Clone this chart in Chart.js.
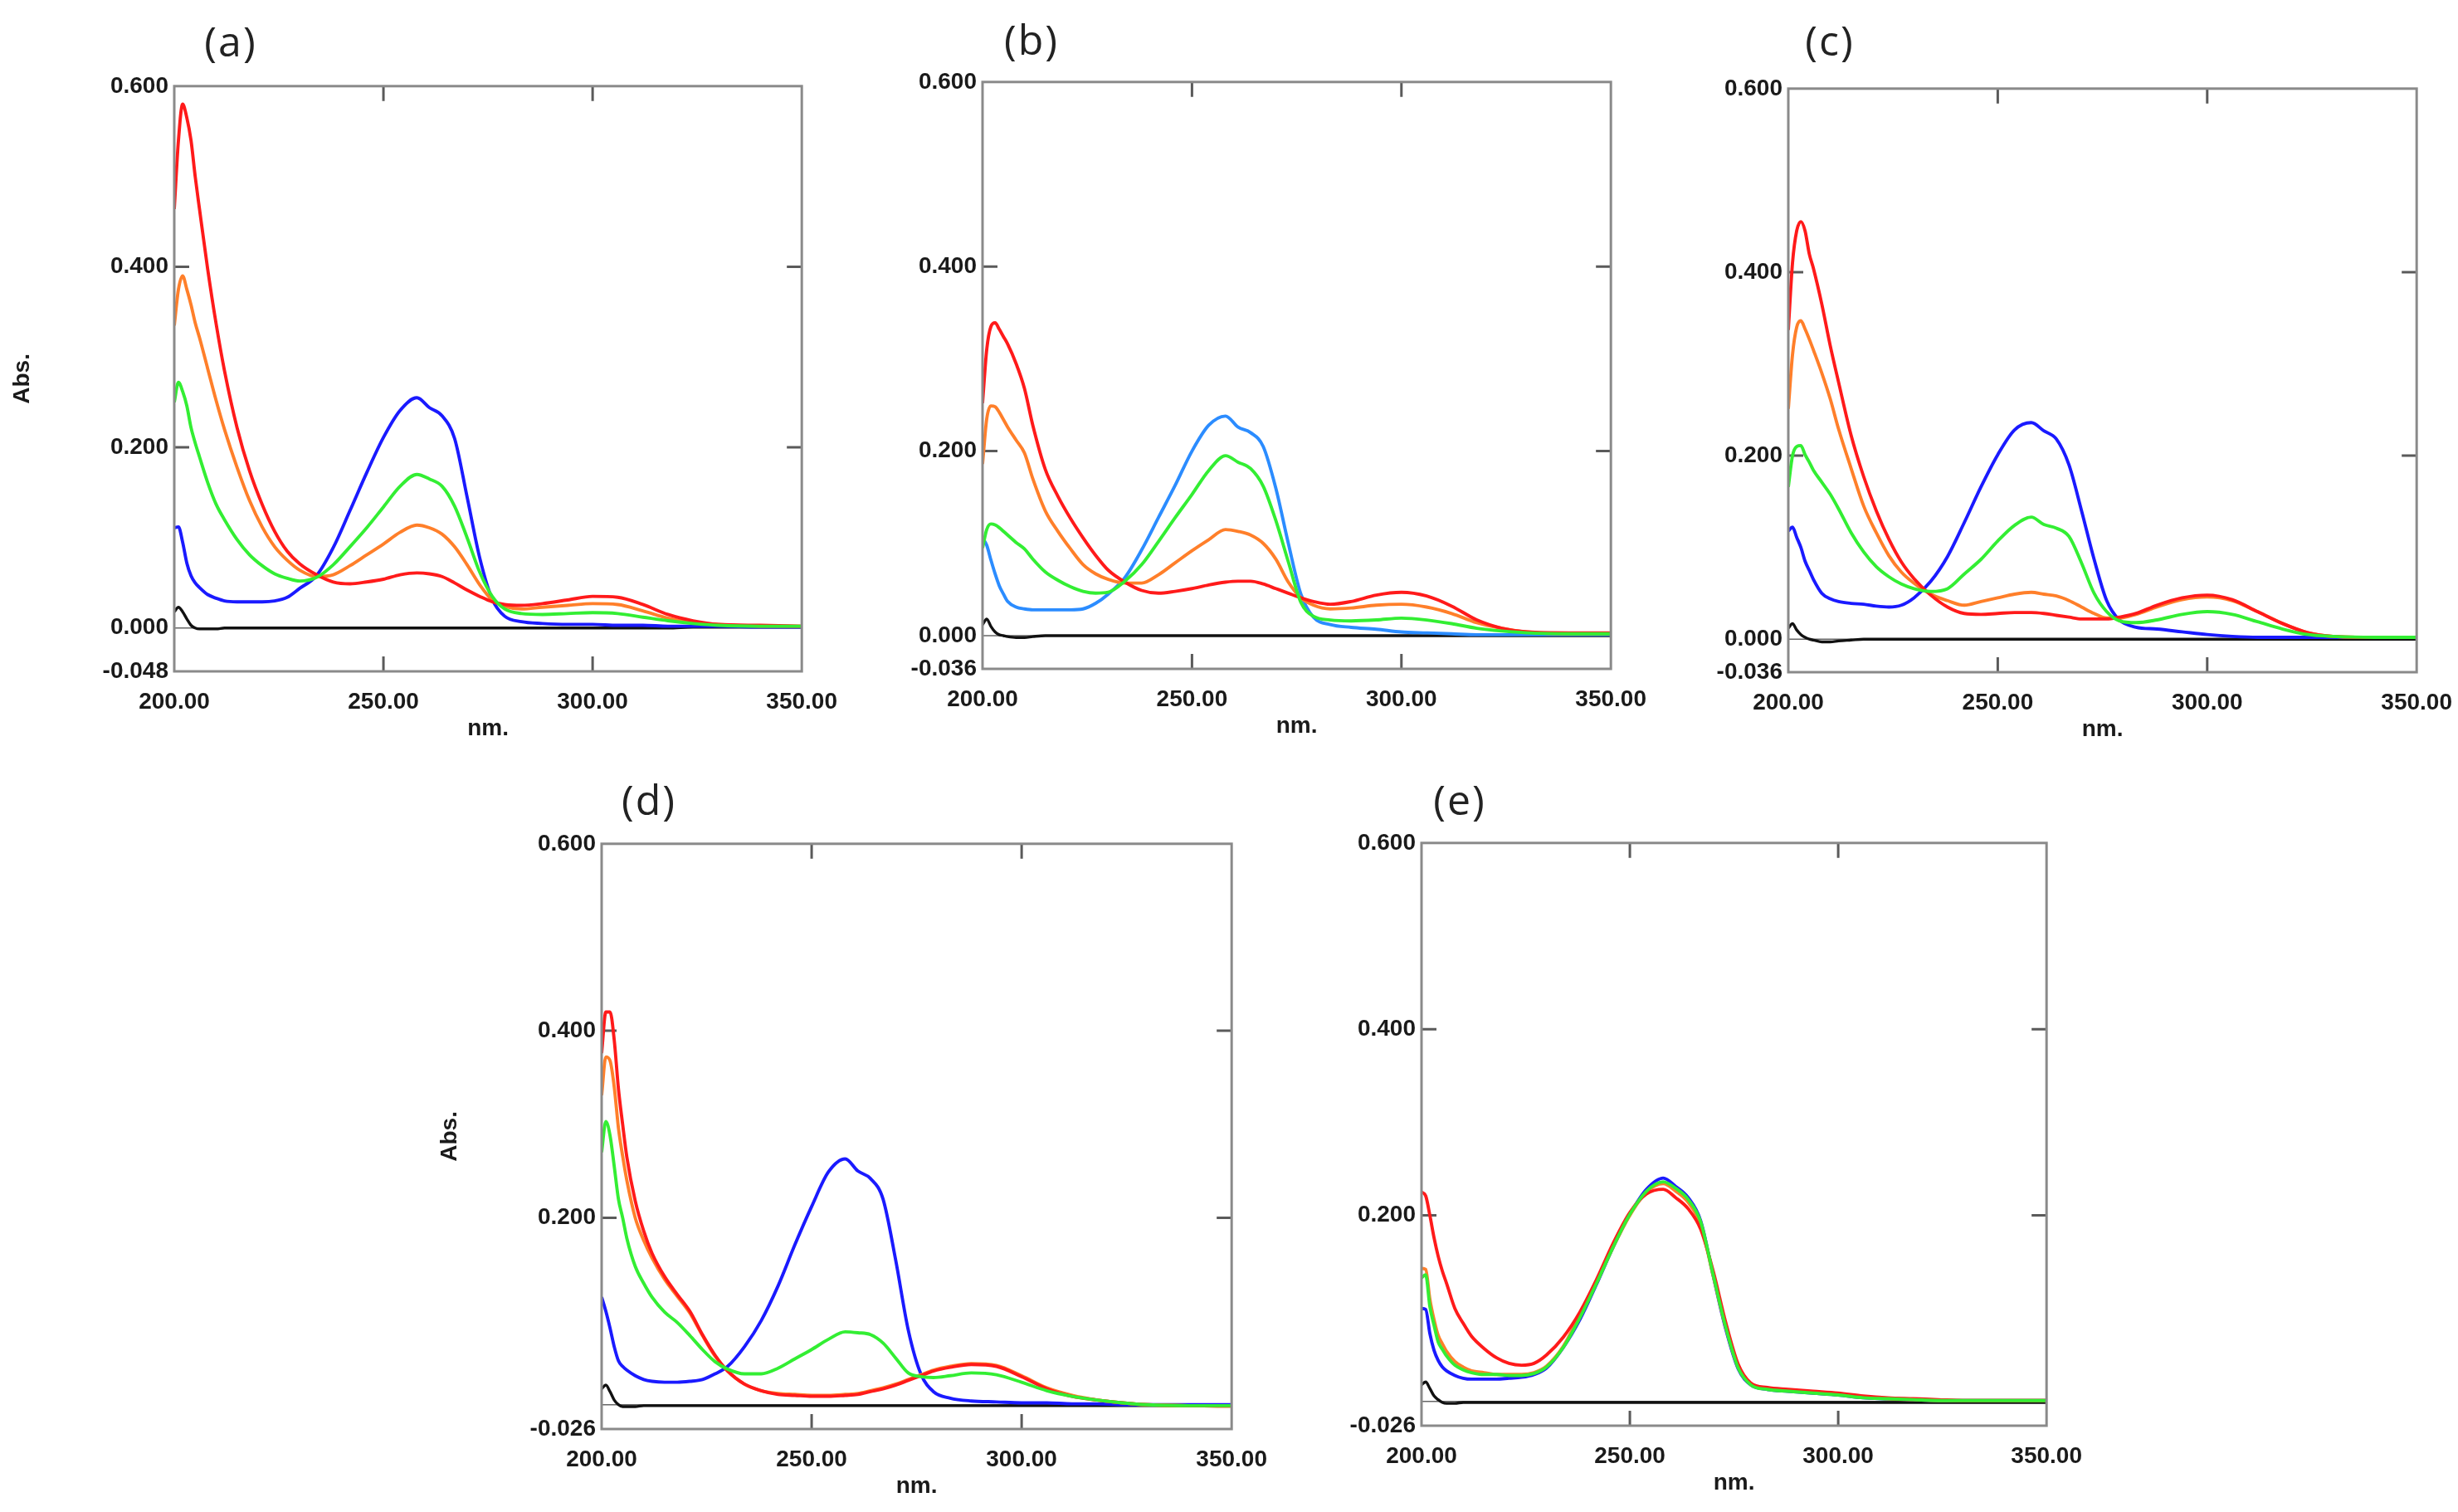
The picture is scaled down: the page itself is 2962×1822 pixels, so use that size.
<!DOCTYPE html>
<html>
<head>
<meta charset="utf-8">
<script src="https://cdn.jsdelivr.net/npm/chart.js@4.4.1/dist/chart.umd.min.js"></script>
<style>
  html, body { margin: 0; padding: 0; background: #fff; }
  body { width: 2962px; height: 1822px; position: relative; overflow: hidden; }
  canvas { position: absolute; }
  .tag {
    position: absolute;
    font-family: "Open Sans", sans-serif;
    font-size: 50px;
    color: #222;
    letter-spacing: 2px;
    transform: translate(-50%, -50%);
    white-space: nowrap;
  }
</style>
</head>
<body>
<script>
// Wavelength grid (nm) used by every spectrum
const nm = [200, 201, 202, 203, 204, 205, 206, 208, 210, 212, 215, 218, 221, 224, 227, 230, 234, 238, 242, 246,
            250, 254, 258, 261, 264, 267, 270, 273, 276, 279, 283, 288, 294, 300, 306, 312, 318, 324, 330, 340, 350];

// Panel (a)
const aRed    = [0.464, 0.54, 0.58, 0.565, 0.54, 0.5, 0.465, 0.397, 0.337, 0.285, 0.222, 0.174, 0.137, 0.107, 0.085, 0.071, 0.059, 0.051, 0.049, 0.051,
                 0.054, 0.059, 0.061, 0.06, 0.057, 0.05, 0.042, 0.035, 0.029, 0.026, 0.025, 0.027, 0.031, 0.035, 0.034, 0.026, 0.015, 0.008, 0.004, 0.003, 0.002];
const aOrange = [0.335, 0.375, 0.39, 0.375, 0.358, 0.338, 0.322, 0.287, 0.252, 0.22, 0.178, 0.141, 0.112, 0.09, 0.075, 0.064, 0.057, 0.059, 0.069, 0.081,
                 0.093, 0.106, 0.114, 0.111, 0.104, 0.09, 0.07, 0.048, 0.031, 0.024, 0.021, 0.023, 0.025, 0.027, 0.026, 0.019, 0.011, 0.006, 0.004, 0.002, 0.002];
const aGreen  = [0.25, 0.272, 0.262, 0.246, 0.222, 0.205, 0.19, 0.161, 0.137, 0.12, 0.098, 0.081, 0.069, 0.06, 0.055, 0.052, 0.056, 0.07, 0.09, 0.111,
                 0.134, 0.157, 0.17, 0.165, 0.157, 0.135, 0.1, 0.062, 0.035, 0.021, 0.016, 0.015, 0.016, 0.017, 0.016, 0.012, 0.008, 0.005, 0.003, 0.002, 0.002];
const aBlue   = [0.111, 0.112, 0.095, 0.072, 0.058, 0.05, 0.045, 0.037, 0.033, 0.03, 0.029, 0.029, 0.029, 0.03, 0.034, 0.044, 0.058, 0.089, 0.13, 0.172,
                 0.211, 0.241, 0.255, 0.244, 0.235, 0.21, 0.145, 0.078, 0.032, 0.013, 0.007, 0.005, 0.004, 0.004, 0.003, 0.003, 0.002, 0.002, 0.002, 0.001, 0.001];
const aBlack  = [0.018, 0.023, 0.018, 0.01, 0.003, 0, -0.001, -0.001, -0.001, 0, 0, 0, 0, 0, 0, 0, 0, 0, 0, 0,
                 0, 0, 0, 0, 0, 0, 0, 0, 0, 0, 0, 0, 0, 0, 0, 0, 0, 0.001, 0.001, 0.001, 0.001];

// Panel (b)
const bRed    = [0.252, 0.31, 0.335, 0.339, 0.332, 0.324, 0.316, 0.295, 0.268, 0.228, 0.18, 0.151, 0.127, 0.106, 0.087, 0.071, 0.058, 0.049, 0.046, 0.048,
                 0.051, 0.055, 0.058, 0.059, 0.059, 0.056, 0.051, 0.046, 0.041, 0.037, 0.034, 0.037, 0.044, 0.047, 0.043, 0.032, 0.017, 0.008, 0.004, 0.003, 0.003];
const bOrange = [0.186, 0.235, 0.249, 0.248, 0.242, 0.234, 0.226, 0.212, 0.198, 0.17, 0.135, 0.113, 0.094, 0.077, 0.067, 0.061, 0.057, 0.057, 0.066, 0.079,
                 0.092, 0.104, 0.115, 0.113, 0.109, 0.1, 0.083, 0.058, 0.041, 0.033, 0.029, 0.03, 0.033, 0.034, 0.031, 0.024, 0.014, 0.008, 0.004, 0.002, 0.002];
const bGreen  = [0.095, 0.115, 0.121, 0.12, 0.117, 0.113, 0.109, 0.101, 0.094, 0.083, 0.069, 0.06, 0.053, 0.048, 0.046, 0.047, 0.059, 0.077, 0.102, 0.128,
                 0.153, 0.179, 0.195, 0.188, 0.181, 0.162, 0.125, 0.08, 0.036, 0.021, 0.017, 0.016, 0.017, 0.019, 0.017, 0.013, 0.008, 0.005, 0.003, 0.002, 0.002];
const bBlue   = [0.106, 0.098, 0.082, 0.067, 0.054, 0.045, 0.037, 0.031, 0.029, 0.028, 0.028, 0.028, 0.028, 0.029, 0.035, 0.045, 0.063, 0.093, 0.128, 0.163,
                 0.2, 0.228, 0.238, 0.226, 0.22, 0.205, 0.16, 0.1, 0.045, 0.02, 0.012, 0.009, 0.007, 0.004, 0.003, 0.002, 0.001, 0.001, 0.001, 0.001, 0.001];
const bBlack  = [0.012, 0.018, 0.01, 0.004, 0.001, 0, -0.001, -0.002, -0.002, -0.001, 0, 0, 0, 0, 0, 0, 0, 0, 0, 0,
                 0, 0, 0, 0, 0, 0, 0, 0, 0, 0, 0, 0, 0, 0, 0, 0, 0, 0, 0, 0, 0];

// Panel (c)
const cRed    = [0.337, 0.41, 0.445, 0.455, 0.445, 0.42, 0.404, 0.365, 0.32, 0.28, 0.222, 0.177, 0.14, 0.109, 0.084, 0.066, 0.048, 0.035, 0.028, 0.027,
                 0.028, 0.029, 0.029, 0.028, 0.026, 0.024, 0.022, 0.022, 0.022, 0.024, 0.028, 0.037, 0.045, 0.048, 0.043, 0.03, 0.017, 0.007, 0.003, 0.002, 0.002];
const cOrange = [0.251, 0.31, 0.34, 0.347, 0.338, 0.327, 0.315, 0.29, 0.262, 0.229, 0.186, 0.145, 0.116, 0.091, 0.073, 0.061, 0.049, 0.042, 0.037, 0.041,
                 0.045, 0.049, 0.051, 0.049, 0.047, 0.042, 0.035, 0.028, 0.023, 0.023, 0.027, 0.035, 0.043, 0.046, 0.042, 0.03, 0.017, 0.007, 0.003, 0.002, 0.002];
const cGreen  = [0.166, 0.2, 0.21, 0.211, 0.201, 0.193, 0.184, 0.171, 0.158, 0.142, 0.116, 0.095, 0.079, 0.068, 0.06, 0.055, 0.052, 0.055, 0.071, 0.087,
                 0.107, 0.124, 0.133, 0.125, 0.121, 0.112, 0.083, 0.05, 0.03, 0.02, 0.018, 0.021, 0.027, 0.03, 0.027, 0.019, 0.011, 0.005, 0.003, 0.002, 0.002];
const cBlue   = [0.118, 0.122, 0.111, 0.1, 0.085, 0.075, 0.065, 0.05, 0.044, 0.041, 0.039, 0.038, 0.036, 0.035, 0.037, 0.045, 0.063, 0.09, 0.127, 0.166,
                 0.201, 0.228, 0.236, 0.227, 0.218, 0.19, 0.14, 0.087, 0.042, 0.021, 0.013, 0.011, 0.008, 0.005, 0.003, 0.002, 0.002, 0.002, 0.002, 0.002, 0.002];
const cBlack  = [0.012, 0.017, 0.01, 0.005, 0.002, 0, -0.001, -0.003, -0.003, -0.002, -0.001, 0, 0, 0, 0, 0, 0, 0, 0, 0,
                 0, 0, 0, 0, 0, 0, 0, 0, 0, 0, 0, 0, 0, 0, 0, 0, 0, 0, 0, 0, 0];

// Panel (d)
const dRed    = [0.376, 0.42, 0.42, 0.39, 0.338, 0.3, 0.265, 0.218, 0.186, 0.162, 0.137, 0.118, 0.1, 0.075, 0.053, 0.036, 0.022, 0.015, 0.011, 0.01,
                 0.009, 0.009, 0.01, 0.011, 0.014, 0.017, 0.021, 0.026, 0.031, 0.036, 0.04, 0.043, 0.041, 0.03, 0.017, 0.009, 0.005, 0.002, 0, -0.001, -0.0015];
const dOrange = [0.331, 0.372, 0.368, 0.34, 0.296, 0.266, 0.24, 0.2, 0.176, 0.157, 0.134, 0.116, 0.098, 0.074, 0.052, 0.036, 0.022, 0.015, 0.012, 0.011,
                 0.01, 0.01, 0.011, 0.012, 0.015, 0.018, 0.022, 0.027, 0.032, 0.037, 0.041, 0.044, 0.042, 0.031, 0.018, 0.01, 0.005, 0.002, 0, -0.001, -0.0015];
const dGreen  = [0.27, 0.303, 0.288, 0.255, 0.22, 0.2, 0.178, 0.148, 0.13, 0.115, 0.099, 0.088, 0.074, 0.059, 0.046, 0.038, 0.033, 0.033, 0.039, 0.049,
                 0.059, 0.07, 0.078, 0.077, 0.075, 0.066, 0.05, 0.034, 0.03, 0.029, 0.031, 0.034, 0.032, 0.024, 0.015, 0.009, 0.005, 0.002, 0, -0.001, -0.001];
const dBlue   = [0.115, 0.1, 0.082, 0.062, 0.047, 0.041, 0.037, 0.031, 0.027, 0.025, 0.024, 0.024, 0.025, 0.027, 0.033, 0.041, 0.062, 0.09, 0.127, 0.171,
                 0.212, 0.249, 0.263, 0.25, 0.242, 0.22, 0.155, 0.08, 0.033, 0.014, 0.007, 0.004, 0.003, 0.002, 0.002, 0.001, 0.001, 0, 0, 0, 0];
const dBlack  = [0.017, 0.021, 0.014, 0.005, 0, -0.002, -0.002, -0.002, -0.001, -0.001, -0.001, -0.001, -0.001, -0.001, -0.001, -0.001, -0.001, -0.001, -0.001, -0.001,
                 -0.001, -0.001, -0.001, -0.001, -0.001, -0.001, -0.001, -0.001, -0.001, -0.001, -0.001, -0.001, -0.001, -0.001, -0.001, -0.001, -0.001, -0.001, -0.001, -0.001, -0.001];

// Panel (e)
const eRed    = [0.225, 0.221, 0.2, 0.176, 0.156, 0.14, 0.127, 0.1, 0.084, 0.07, 0.057, 0.047, 0.041, 0.039, 0.041, 0.05, 0.069, 0.096, 0.131, 0.17,
                 0.203, 0.223, 0.228, 0.219, 0.207, 0.185, 0.14, 0.085, 0.04, 0.02, 0.015, 0.013, 0.011, 0.009, 0.006, 0.004, 0.003, 0.002, 0.001, 0.001, 0.001];
const eOrange = [0.143, 0.142, 0.11, 0.088, 0.071, 0.062, 0.054, 0.043, 0.037, 0.033, 0.031, 0.029, 0.029, 0.029, 0.031, 0.038, 0.059, 0.093, 0.128, 0.166,
                 0.2, 0.225, 0.234, 0.226, 0.214, 0.19, 0.135, 0.08, 0.037, 0.019, 0.014, 0.012, 0.01, 0.008, 0.005, 0.003, 0.002, 0.001, 0.001, 0.001, 0.001];
const eGreen  = [0.133, 0.136, 0.102, 0.082, 0.064, 0.056, 0.049, 0.039, 0.034, 0.031, 0.029, 0.029, 0.028, 0.028, 0.03, 0.037, 0.058, 0.09, 0.127, 0.166,
                 0.201, 0.226, 0.236, 0.229, 0.217, 0.193, 0.136, 0.08, 0.036, 0.018, 0.013, 0.011, 0.009, 0.007, 0.004, 0.003, 0.002, 0.001, 0.001, 0.001, 0.001];
const eBlue   = [0.1, 0.099, 0.073, 0.055, 0.044, 0.037, 0.033, 0.028, 0.025, 0.024, 0.024, 0.024, 0.025, 0.026, 0.029, 0.036, 0.058, 0.088, 0.126, 0.166,
                 0.201, 0.228, 0.24, 0.231, 0.219, 0.194, 0.135, 0.078, 0.035, 0.018, 0.013, 0.011, 0.009, 0.007, 0.004, 0.003, 0.002, 0.001, 0.001, 0.001, 0.001];
const eBlack  = [0.018, 0.021, 0.014, 0.006, 0.002, -0.001, -0.002, -0.002, -0.001, -0.001, -0.001, -0.001, -0.001, -0.001, -0.001, -0.001, -0.001, -0.001, -0.001, -0.001,
                 -0.001, -0.001, -0.001, -0.001, -0.001, -0.001, -0.001, -0.001, -0.001, -0.001, -0.001, -0.001, -0.001, -0.001, -0.001, -0.001, -0.001, -0.001, -0.001, -0.001, -0.001];

// Axis ticks
const xTicks = [200, 250, 300, 350];
const yTicksFull = [0, 0.2, 0.4, 0.6];
const yTicksNoZero = [0.2, 0.4, 0.6];
const panelYTicks = [yTicksFull, yTicksFull, yTicksFull, yTicksNoZero, yTicksNoZero];
const yMins = [-0.048, -0.036, -0.036, -0.026, -0.026];
const panelTags = ['(a)', '(b)', '(c)', '(d)', '(e)'];

// Spectra per panel, drawn top layer first
const panelSeries = [
  [aGreen, aRed, aOrange, aBlue, aBlack],
  [bGreen, bRed, bOrange, bBlue, bBlack],
  [cGreen, cRed, cOrange, cBlue, cBlack],
  [dGreen, dRed, dOrange, dBlue, dBlack],
  [eGreen, eRed, eOrange, eBlue, eBlack]
];

// Layout: plot box of each panel (page pixels), tag centre, y title
const boxes = [
  {left: 210,  top: 100,  right: 969,  bottom: 809,  tagX: 278,  tagY: 49,  yTitle: true,  blue: '#1a1aff'},
  {left: 1184, top: 95,   right: 1944, bottom: 806,  tagX: 1243, tagY: 47,  yTitle: false, blue: '#2b8cff'},
  {left: 2155, top: 103,  right: 2915, bottom: 810,  tagX: 2205, tagY: 48,  yTitle: false, blue: '#1a1aff'},
  {left: 725,  top: 1013, right: 1487, bottom: 1722, tagX: 782,  tagY: 963, yTitle: true,  blue: '#1a1aff'},
  {left: 1713, top: 1012, right: 2469, bottom: 1718, tagX: 1759, tagY: 963, yTitle: false, blue: '#1a1aff'}
];

const AXIS_W = 200;   // room left of the box for labels and "Abs."
const AXIS_H = 100;   // room under the box for labels and "nm."
const PAD_T = 20;
const PAD_R = 60;

const boldFont = {family: 'Liberation Sans, Arial, sans-serif', size: 28, weight: 'bold'};

// Frame with inward tick marks and a thin zero line
const framePlugin = {
  id: 'frame',
  beforeDatasetsDraw(chart) {
    const {ctx, chartArea: a, scales: {x, y}} = chart;
    ctx.save();
    ctx.strokeStyle = '#5a5a5a';
    ctx.lineWidth = 3;
    ctx.beginPath();
    xTicks.slice(1, -1).forEach((v) => {
      const px = x.getPixelForValue(v);
      ctx.moveTo(px, a.top);
      ctx.lineTo(px, a.top + 18);
      ctx.moveTo(px, a.bottom);
      ctx.lineTo(px, a.bottom - 18);
    });
    [0.2, 0.4].forEach((v) => {
      const py = y.getPixelForValue(v);
      ctx.moveTo(a.left, py);
      ctx.lineTo(a.left + 18, py);
      ctx.moveTo(a.right, py);
      ctx.lineTo(a.right - 18, py);
    });
    ctx.stroke();
    // zero line
    const y0 = y.getPixelForValue(0);
    ctx.strokeStyle = '#666';
    ctx.lineWidth = 1.5;
    ctx.beginPath();
    ctx.moveTo(a.left, y0);
    ctx.lineTo(a.right, y0);
    ctx.stroke();
    ctx.restore();
  },
  afterDatasetsDraw(chart) {
    const {ctx, chartArea: a} = chart;
    ctx.save();
    ctx.strokeStyle = '#8a8a8a';
    ctx.lineWidth = 3;
    ctx.strokeRect(a.left, a.top, a.right - a.left, a.bottom - a.top);
    ctx.restore();
  }
};

function makePanel(i) {
  const box = boxes[i];
  const yMin = yMins[i];
  const yLabels = [yMin].concat(panelYTicks[i]);
  const colors = ['#33ee33', '#ff1a1a', '#ff7f2a', box.blue, '#111111'];

  const canvas = document.createElement('canvas');
  const w = box.right - box.left + AXIS_W + PAD_R;
  const h = box.bottom - box.top + PAD_T + AXIS_H;
  canvas.width = w;
  canvas.height = h;
  canvas.style.left = (box.left - AXIS_W) + 'px';
  canvas.style.top = (box.top - PAD_T) + 'px';
  canvas.style.width = w + 'px';
  canvas.style.height = h + 'px';
  document.body.appendChild(canvas);

  const tag = document.createElement('div');
  tag.className = 'tag';
  tag.style.left = box.tagX + 'px';
  tag.style.top = box.tagY + 'px';
  tag.textContent = panelTags[i];
  document.body.appendChild(tag);

  const datasets = panelSeries[i].map((vals, k) => ({
    data: nm.map((x, j) => ({x: x, y: vals[j]})),
    borderColor: colors[k],
    borderWidth: k === 4 ? 3.4 : 3.9,
    pointRadius: 0,
    fill: false,
    cubicInterpolationMode: 'monotone'
  }));

  new Chart(canvas, {
    type: 'line',
    data: {datasets: datasets},
    plugins: [framePlugin],
    options: {
      responsive: false,
      devicePixelRatio: 1,
      animation: false,
      layout: {padding: {left: 0, top: PAD_T, right: PAD_R, bottom: 0}},
      plugins: {legend: {display: false}, tooltip: {enabled: false}},
      scales: {
        x: {
          type: 'linear',
          min: 200,
          max: 350,
          afterBuildTicks: (s) => { s.ticks = xTicks.map((v) => ({value: v})); },
          afterFit: (s) => { s.height = AXIS_H; },
          grid: {display: false, drawTicks: false},
          border: {display: false},
          ticks: {
            padding: 20,
            color: '#1a1a1a',
            font: boldFont,
            maxRotation: 0,
            autoSkip: false,
            callback: (v) => Number(v).toFixed(2)
          },
          title: {display: true, text: 'nm.', color: '#1a1a1a', font: boldFont, padding: {top: 0, bottom: 14}}
        },
        y: {
          type: 'linear',
          min: yMin,
          max: 0.6,
          afterBuildTicks: (s) => { s.ticks = yLabels.map((v) => ({value: v})); },
          afterFit: (s) => { s.width = AXIS_W; },
          grid: {display: false, drawTicks: false},
          border: {display: false},
          ticks: {
            padding: 7,
            color: '#1a1a1a',
            font: boldFont,
            autoSkip: false,
            callback: (v) => Number(v).toFixed(3)
          },
          title: {display: box.yTitle, text: 'Abs.', color: '#1a1a1a', font: boldFont, padding: {top: 0, bottom: 0}}
        }
      }
    }
  });
}

for (let i = 0; i < boxes.length; i++) {
  makePanel(i);
}
</script>
</body>
</html>
